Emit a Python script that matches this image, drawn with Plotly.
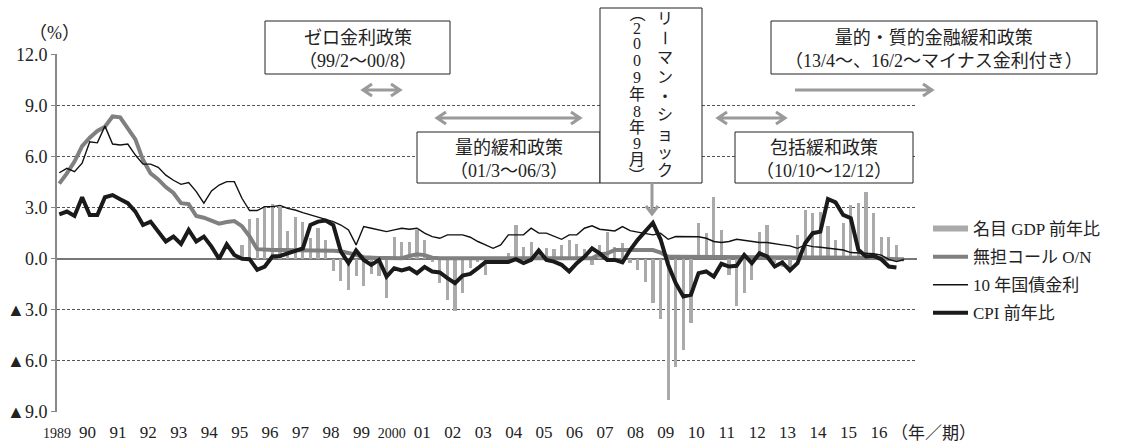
import plotly.graph_objects as go

# ---------------------------------------------------------------------------
# Quarterly data, index 0 = 1989Q1
# ---------------------------------------------------------------------------
call_rate = [
    4.4, 5.0, 5.7, 6.6, 7.1, 7.5, 7.75, 8.35, 8.3, 7.6, 7.0, 5.8,
    5.0, 4.65, 4.2, 3.85, 3.25, 3.2, 2.5, 2.4, 2.2, 2.05, 2.15, 2.2,
    1.9, 1.3, 0.55, 0.5, 0.5, 0.5, 0.5, 0.5, 0.5, 0.5, 0.5, 0.48,
    0.45, 0.43, 0.35, 0.22, 0.08, 0.03, 0.03, 0.03, 0.02, 0.02, 0.15, 0.25,
    0.2, 0.05, 0.01, 0.01, 0.01, 0.01, 0.01, 0.01, 0.01, 0.01, 0.01, 0.01,
    0.01, 0.01, 0.01, 0.01, 0.01, 0.01, 0.01, 0.01, 0.01, 0.01, 0.02, 0.25,
    0.3, 0.5, 0.5, 0.5, 0.5, 0.5, 0.5, 0.35, 0.1, 0.1, 0.1, 0.1,
    0.1, 0.1, 0.1, 0.1, 0.1, 0.1, 0.1, 0.1, 0.1, 0.1, 0.1, 0.1,
    0.07, 0.07, 0.07, 0.07, 0.07, 0.07, 0.07, 0.07, 0.07, 0.07, 0.07, 0.05,
    0.0, -0.05, -0.05, -0.04,
]

jgb10 = [
    5.04, 5.3, 5.1, 5.6, 6.86, 6.8, 7.78, 6.73, 6.67, 6.73, 6.08, 5.55,
    5.55, 5.36, 4.9, 4.6, 4.36, 4.46, 3.93, 3.25, 3.97, 4.32, 4.52, 4.52,
    3.54, 2.82, 2.82, 3.05, 3.05, 3.12, 2.95, 2.85, 2.7, 2.56, 2.46, 2.3,
    2.17, 1.97, 1.68, 0.8, 1.88, 1.78, 1.68, 1.58, 1.68, 1.78, 1.72, 1.78,
    1.49, 1.29, 1.19, 1.39, 1.39, 1.39, 1.25, 1.0, 0.8, 0.6, 0.8, 1.39,
    1.39, 1.39, 1.78, 1.49, 1.49, 1.33, 1.13, 1.39, 1.39, 1.78, 1.92, 1.72,
    1.65, 1.62, 1.88, 1.64, 1.55, 1.45, 1.39, 1.49, 1.13, 1.29, 1.3, 1.3,
    1.28, 1.19, 1.0, 0.94, 1.0, 1.13, 1.06, 1.0, 0.94, 0.94, 0.85, 0.8,
    0.74, 0.6, 0.8, 0.7, 0.66, 0.6, 0.57, 0.5, 0.35, 0.33, 0.3, 0.28,
    0.2, -0.05, -0.18, -0.06,
]

cpi = [
    2.6, 2.76, 2.5, 3.6, 2.56, 2.56, 3.6, 3.73, 3.48, 3.25, 2.76, 1.97,
    2.17, 1.58, 1.0, 1.29, 0.86, 1.68, 1.0, 1.29, 0.7, -0.02, 0.84, 0.21,
    -0.02, -0.04, -0.66, -0.47, 0.12, 0.15, 0.3, 0.45, 0.6, 1.97, 2.17, 2.23,
    1.97, 0.41, -0.27, 0.47, -0.08, -0.37, -0.08, -1.06, -0.57, -0.7, -0.57, -0.86,
    -0.5, -0.76, -0.82, -1.15, -1.45, -1.0, -0.9, -0.57, -0.21, -0.21, -0.18, -0.2,
    -0.04, -0.27, -0.08, 0.47, -0.08, -0.18, -0.37, -0.76, -0.27, 0.1, 0.6, 0.3,
    -0.08, -0.08, -0.23, 0.5, 1.1, 1.58, 2.1, 1.13, -0.37, -1.45, -2.23, -2.13,
    -0.86, -0.76, -1.06, -0.31, -0.47, -0.43, 0.21, -0.27, 0.31, 0.12, -0.47, -0.23,
    -0.7, -0.27, 0.9, 1.49, 1.58, 3.5, 3.3, 2.56, 2.37, 0.51, 0.12, 0.16,
    -0.04, -0.47, -0.53,
]

# Nominal GDP, year-on-year, starting 1995Q1 (quarter index 24)
gdp_first_quarter = 24
gdp = [
    0.8, 2.3, 2.4, 3.1, 3.2, 3.0, 1.6, 2.46, 2.17, 1.2, 1.78, 1.1,
    -0.76, -1.35, -1.84, -1.0, -1.64, -0.9, -1.0, -2.33, 1.29, 1.0, 1.0, 1.68,
    1.06, -0.18, -1.41, -2.42, -3.1, -2.0, -0.57, -0.18, -0.96, -0.3, 0.1, 0.35,
    1.97, 0.7, 1.0, 0.5, 0.6, 0.55, 0.8, 1.06, 0.86, 0.55, -0.37, 0.8,
    1.58, 0.7, 0.9, -0.27, -0.66, -1.4, -2.6, -3.56, -8.3, -6.4, -5.4, -3.8,
    2.07, 1.49, 3.6, 1.68, -0.96, -2.8, -2.03, -1.25, 1.58, 1.97, -0.27, -0.5,
    -0.57, 1.39, 2.85, 2.66, 2.76, 1.9, 1.1, 2.1, 3.15, 3.28, 3.9, 2.66,
    1.29, 1.25, 0.8,
]

year_labels = ["1989", "90", "91", "92", "93", "94", "95", "96", "97", "98", "99",
               "2000", "01", "02", "03", "04", "05", "06", "07", "08", "09", "10",
               "11", "12", "13", "14", "15", "16"]
y_ticks = [12, 9, 6, 3, 0, -3, -6, -9]
y_tick_text = ["12.0", "9.0", "6.0", "3.0", "0.0", "▲3.0", "▲6.0", "▲9.0"]

series_names = ["名目 GDP 前年比", "無担コール O/N", "10 年国債金利", "CPI 前年比"]

# ---------------------------------------------------------------------------
# Frame geometry (pixels)
# ---------------------------------------------------------------------------
W, H = 1126, 443
L, R, T, B = 57, 917, 54, 412

SERIF = "Liberation Serif, Noto Sans CJK JP, serif"
INK = "#222222"
ARROW = "#9a9a9a"


def fx(px):
    return (px - L) / (R - L)


def fy(py):
    return (B - py) / (B - T)


fig = go.Figure()

# legend swatch for the bar series (thick short stroke)
fig.add_trace(go.Scatter(
    x=[None], y=[None], mode="lines", name=series_names[0],
    line=dict(color="#aaaaaa", width=6), legendgroup="g0",
))
fig.add_trace(go.Bar(
    x=[gdp_first_quarter + i for i in range(len(gdp))], y=gdp,
    width=0.42, marker=dict(color="#aaaaaa", line=dict(width=0)),
    showlegend=False, name=series_names[0],
))
fig.add_trace(go.Scatter(
    x=list(range(len(call_rate))), y=call_rate, mode="lines", name=series_names[1],
    line=dict(color="#808080", width=4), legendgroup="g1",
))
fig.add_trace(go.Scatter(
    x=list(range(len(jgb10))), y=jgb10, mode="lines", name=series_names[2],
    line=dict(color="#111111", width=1.4), legendgroup="g2",
))
fig.add_trace(go.Scatter(
    x=list(range(len(cpi))), y=cpi, mode="lines", name=series_names[3],
    line=dict(color="#1a1a1a", width=4), legendgroup="g3",
))

# x tick labels: narrower type for the four-digit years
tick_text = []
for lab in year_labels:
    if len(lab) == 4:
        tick_text.append(f"<span style='font-size:14px'>{lab}</span>")
    else:
        tick_text.append(lab)

fig.update_xaxes(
    range=[-0.3, 112.7],
    tickvals=[4 * k - 0.3 for k in range(len(year_labels))],
    ticktext=tick_text,
    ticks="outside", ticklen=5, tickcolor="rgba(0,0,0,0)",
    showgrid=False, zeroline=False, showline=False, automargin=False,
    tickfont=dict(family=SERIF, size=17, color=INK),
)
fig.update_yaxes(
    range=[-9.02, 12.02],
    tickvals=y_ticks, ticktext=y_tick_text,
    ticks="outside", ticklen=4, tickcolor="#888888",
    ticklabelstandoff=0, automargin=False,
    showline=True, linecolor="#888888", linewidth=2,
    showgrid=True, gridcolor="#555555", gridwidth=1, griddash="3px,2px",
    zeroline=True, zerolinecolor="#777777", zerolinewidth=1.5,
    tickfont=dict(family=SERIF, size=18, color=INK),
)

shapes = []
annotations = []


def box(x0, y0, x1, y1):
    shapes.append(dict(
        type="rect", xref="paper", yref="paper",
        x0=fx(x0), x1=fx(x1), y0=fy(y1), y1=fy(y0),
        line=dict(color=INK, width=1), fillcolor="white", layer="above",
    ))


def label(px, py, text, size=18, **kw):
    annotations.append(dict(
        x=fx(px), y=fy(py), xref="paper", yref="paper", text=text,
        showarrow=False, font=dict(family=SERIF, size=size, color=INK),
        xanchor=kw.pop("xanchor", "center"), yanchor=kw.pop("yanchor", "middle"),
        borderpad=0, **kw,
    ))


def harrow(x0, x1, y, left=True, right=True, d=9, h=6):
    p = f"M{fx(x0)},{fy(y)} L{fx(x1)},{fy(y)}"
    if left:
        p += f" M{fx(x0 + d)},{fy(y - h)} L{fx(x0)},{fy(y)} L{fx(x0 + d)},{fy(y + h)}"
    if right:
        p += f" M{fx(x1 - d)},{fy(y - h)} L{fx(x1)},{fy(y)} L{fx(x1 - d)},{fy(y + h)}"
    shapes.append(dict(type="path", xref="paper", yref="paper", path=p,
                       line=dict(color=ARROW, width=3), fillcolor="rgba(0,0,0,0)",
                       layer="above"))


def varrow(x, y0, y1, d=8, h=6):
    p = (f"M{fx(x)},{fy(y0)} L{fx(x)},{fy(y1)} "
         f"M{fx(x - h)},{fy(y1 - d)} L{fx(x)},{fy(y1)} L{fx(x + h)},{fy(y1 - d)}")
    shapes.append(dict(type="path", xref="paper", yref="paper", path=p,
                       line=dict(color=ARROW, width=3), fillcolor="rgba(0,0,0,0)",
                       layer="above"))


# policy periods
box(265, 21, 450, 74)
label(357.5, 49, "ゼロ金利政策<br>（99/2〜00/8）")
harrow(363, 400, 90)

box(417, 132, 600, 183)
label(508.5, 159, "量的緩和政策<br>（01/3〜06/3）")
harrow(437, 580, 118)

box(735, 132, 913, 183)
label(824, 159, "包括緩和政策<br>（10/10〜12/12）")
harrow(718, 785, 118)

box(771, 21, 1097, 74)
label(934, 49, "量的・質的金融緩和政策<br>（13/4〜、16/2〜マイナス金利付き）")
harrow(795, 932, 90, left=False)

# Lehman shock, set vertically in two columns
box(600, 8, 702, 183)
title_col = "リーマン・ショック"
title_y = [18, 38, 58, 77, 96, 115, 134, 152, 170]
for ch, py in zip(title_col, title_y):
    label(665, py, ch, size=16, textangle=90 if ch == "ー" else 0)
date_col = "（2009年8年9月）"
date_y = [14, 28, 44, 60, 77, 94, 111, 127, 143, 159, 175]
for ch, py in zip(date_col, date_y):
    label(637, py, ch, size=16, textangle=90 if ch in "（）" else 0)
varrow(652, 183, 214)

# unit labels
label(54, 33, "（%）", size=18)
label(890, 433, "（年／期）", size=17, xanchor="left")

fig.update_layout(
    width=W, height=H,
    margin=dict(l=L, r=W - R, t=T, b=H - B, pad=0, autoexpand=False),
    paper_bgcolor="white", plot_bgcolor="white",
    barmode="overlay", bargap=0,
    font=dict(family=SERIF, size=16, color=INK),
    showlegend=True,
    legend=dict(
        x=fx(928), y=fy(211), xanchor="left", yanchor="top",
        traceorder="grouped", tracegroupgap=3, itemwidth=35,
        font=dict(family=SERIF, size=17, color=INK),
        bgcolor="rgba(0,0,0,0)", borderwidth=0,
    ),
    shapes=shapes,
    annotations=annotations,
)

fig.write_html("out.html", include_plotlyjs=True, full_html=True,
               config={"displayModeBar": False})
